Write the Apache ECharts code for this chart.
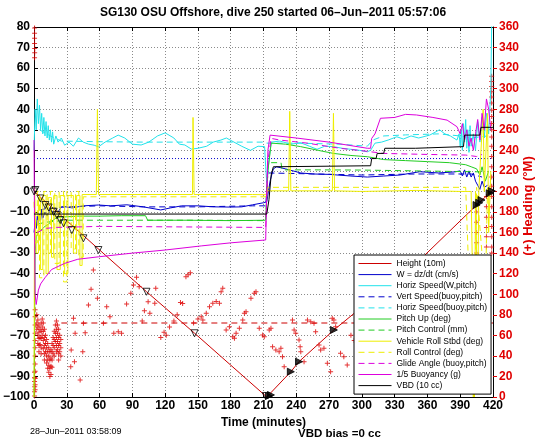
<!DOCTYPE html>
<html><head><meta charset="utf-8">
<script src="https://cdn.jsdelivr.net/npm/echarts@6/dist/echarts.min.js"></script>
<style>html,body{margin:0;padding:0;background:#fff}#c{width:546px;height:442px}</style>
</head><body><div id="c"></div>
<script>
// ---------- DATA (time in minutes, values on left axis unless noted) ----------
const titleText = 'SG130 OSU Offshore, dive 250 started 06\u2013Jun\u20132011 05:57:06';
const legendNames = ['Height (10m)','W = dz/dt (cm/s)','Horiz Speed(W,pitch)','Vert Speed(buoy,pitch)',
  'Horiz Speed(buoy,pitch)','Pitch Up (deg)','Pitch Control (mm)','Vehicle Roll Stbd (deg)',
  'Roll Control (deg)','Glide Angle (buoy,pitch)','1/5 Buoyancy (g)','VBD (10 cc)'];

const height = [[0,0],[60,-28.5],[103,-48.8],[147,-69],[213,-100],[235,-87.7],[242.5,-82.8],[274.4,-67.4],[356,-31.8],[405,-6.6],[420,0.7]];
const heightMarksDown = [[0,0],[1.2,0.7],[5.8,-3.4],[10.3,-6.6],[13.4,-7.8],[17.9,-9.9],[20.9,-11.5],[24,-13.9],[27,-15.5],[34.6,-18.8],[45.2,-22.8],[58.9,-28.5],[102.9,-48.8],[146.9,-69],[212,-99.5]];
const heightMarksUp = [[215,-99.5],[216.8,-99],[235,-87.7],[242.5,-82.8],[274.4,-67.4],[405,-6.6],[407.4,-5.5],[409.5,-4.2],[417,-0.9],[419,0.2]];

const wSpeed = [[0,-20],[1,-15],[2,-18],[3,-12],[4,-16],[5,-11],[6,-14],[7,-9],[8,-13],[10,-10],[12,-12],[14,-9],[16,-11],[19,-8],[22,-10],[25,-7.5],[28,-7.4],[35,-8],[45,-7],[59,-6.6],[70,-7],[85,-6.5],[100,-7.5],[116,-9],[125,-8],[135,-7],[150,-7],[165,-7.5],[180,-7.6],[190,-7.5],[200,-6.5],[210,-5.5],[213,-5],[216,5],[219,11],[222,12],[230,11],[244,9],[255,8.5],[270,8.3],[290,7.5],[305,7],[320,7.5],[335,8],[353,9.6],[370,9],[385,9.5],[390,10],[392,7.5],[394,10.5],[396,7],[398,10],[400,7],[402,9],[404,5],[406,3],[408,1],[410,5],[412,2],[415,3]];
const vertSpeedBuoy = [[5,-9],[15,-8],[30,-7.5],[60,-7],[100,-7.5],[150,-7.5],[200,-7],[212,-7],[214,9],[300,8],[350,8.5],[400,8.5],[410,7]];
const horizSpeedW = [[0,20],[1,40],[2,30],[3,45],[4,33],[5,42],[6,30],[7,38],[8,28],[9,36],[10,27],[11,34],[12,26],[13,32],[14,25],[15,30],[16,24],[17,29],[18,23],[20,27],[22,24],[25,26],[28,22.5],[32,24],[36,22],[40.7,26],[45,24],[50,23],[55,22.5],[59,21.7],[65,24],[72,26],[77,27.4],[83,26],[90,23],[98,22.6],[105,24],[113,27],[120,28.5],[128,26],[133,23],[138,22.6],[144,20.6],[150,21],[158,22],[164,24],[171,25],[176,26],[183,24],[190,22],[198,20],[205,22],[211,21.8],[212,12],[213,4],[215,15],[217,24],[225,24.5],[235,23],[244,23.7],[252,22],[259,20.5],[266,22],[274,21.8],[282,21],[290,20.5],[298,20],[305,19.3],[308,20],[312,23.5],[318,24],[324,25],[332,26.6],[338,25.5],[345,27],[352,26],[362,27.4],[366,28.5],[371,30],[376,28],[381,27],[387,25],[389,28],[390,22],[391,30],[392,20],[393,33],[394,24],[395,35],[396,21],[397,30],[398,19],[399,32],[400,22],[402,28],[404,20],[406,34],[408,24],[410,36],[412,26],[414,38],[416,28],[418,50],[419,90]];
const horizSpeedBuoy = [[5,30],[15,27],[25,24.5],[60,24.2],[100,24],[150,24],[210,24],[213,23.5],[240,23.5],[280,23],[305,22],[310,25],[320,27],[340,27.5],[370,28],[390,27],[400,26],[415,27]];
const pitchUp = [[0,-100],[0.5,-65],[1,-30],[2,-22],[4,-20],[6,-19],[8,-18],[10,-17],[13,-16],[16,-14.5],[20,-13],[25,-12.5],[40,-12],[60,-12],[80,-11.8],[102,-11.8],[104,-14],[140,-14],[180,-14.2],[212,-14],[214,10],[217,23.5],[230,23],[244,21.8],[260,20],[274,18.5],[290,17.5],[305,16.9],[320,15.5],[340,15],[360,14.5],[380,14],[395,13],[400,12],[405,11],[408,8],[410,12],[413,5],[416,10]];
const pitchControl = [[3,-16],[10,-15],[30,-14],[60,-14],[100,-14],[150,-14],[212,-14.2],[214,14],[226,14],[227,10.5],[260,10.5],[300,10.4],[350,10],[400,9.6],[410,9.5]];
const rollStbd = [[0,-100],[0.5,2],[2,2],[2,-30],[4,-30],[4,-3],[6,-3],[6,-38],[8,-38],[8,-2],[11,-2],[11,-40],[13,-40],[13,-3],[16,-3],[16,-32],[18,-32],[18,-2],[21,-2],[21,-38],[24,-38],[24,-2],[28,-2],[28,-40],[31,-40],[31,-2],[36,-2],[36,-30],[39,-30],[39,-2],[42,-2],[42,-36],[44,-36],[44,-1.5],[57,-1.5],[58,40],[59,-1.5],[100,-1.5],[145,-1.5],[145.5,36],[146.5,-1.5],[200,-1.5],[212,-1.6],[213,-1],[214,0.3],[233,0.3],[234,39],[235,0.3],[273,0.3],[274,38],[275,0.3],[300,0],[350,0.5],[390,0],[400,0],[403,-100],[404,0],[406,-60],[407,0],[411,40],[412,0],[415,38],[416,-20],[418,10]];
const rollControl = [[0,-5],[1,-5],[1,-25],[3,-25],[3,0],[5,0],[5,-42],[9,-42],[9,0],[12,0],[12,-30],[15,-30],[15,0],[19,0],[19,-35],[23,-35],[23,0],[27,0],[27,-44],[30,-44],[30,0],[34,0],[34,-28],[38,-28],[38,0],[41,0],[41,-32],[45,-32],[45,-2.6],[100,-2.6],[150,-2.6],[212,-2.6],[214,2],[300,2],[395,2],[402,-100],[405,2],[413,-50],[415,2]];
const glideAngle = [[3,-20],[10,-18],[20,-17.5],[60,-17],[150,-17.3],[212,-17.5],[214,15],[217,25.8],[225,25],[250,23.5],[280,21],[305,19.5],[320,18.5],[360,18],[395,17.7],[405,17],[410,18]];
const buoyancy = [[0,25],[0.5,-20],[1,-50],[2,-55],[4,-48],[6,-45],[10,-42],[16,-38],[22,-36.5],[28,-35],[40,-33],[59,-31.8],[90,-30],[120,-28.5],[153,-26.5],[180,-25],[212,-23.6],[213,0],[214,20],[216,27.4],[240,26],[270,24],[305,21],[308,21],[309,25.8],[312,28],[317,35.6],[330,36],[340,37.5],[350,37.2],[365,36],[378,34.7],[387,31.5],[390,28],[392,33],[394,25],[396,30],[398,22],[400,26],[402,20],[404,28],[406,35],[408,25],[410,38],[412,30],[414,45],[416,40],[418,30]];
const vbd = [[0,-11],[213,-11],[215,-4],[217,8],[219,12],[308,12.5],[309,16],[313,16],[314,18.5],[320,18.5],[321,21],[349,21],[350,21.8],[393,21.8],[394,27.4],[408,27.4],[409,31.2],[420,31.2]];
const blueRef = [[0,16],[420,16]];

// heading (right axis, degrees M)
const headingRef = [[25,72],[420,72]];
const headingStart = [[0.5,359],[0.5,354],[0.5,349],[0.5,344],[0.6,339],[0.6,335],[0.5,330],[0.5,24],[0.6,19],[0.5,15],[0.6,10],[0.5,5],[0.5,1]];
const headingCluster = [[1,85],[1,78],[1,70],[1,62],[1,55],[1,48],[1,40],[1,32],[1,25],[1,18],[1,12],[1,7],
[2.5,80],[2.5,72],[2.5,66],[3.5,75],[3.5,68],[3.5,60],[3.5,52],[4.5,70],[4.5,63],[4.5,57],[4.5,50],[4.5,44],
[5.5,66],[5.5,58],[5.5,51],[6.5,72],[6.5,64],[6.5,57],[6.5,48],[6.5,42],[7.5,76],[7.5,68],[7.5,60],
[8.5,72],[8.5,64],[8.5,55],[8.5,47],[9.5,66],[9.5,58],[9.5,50],[9.5,42],[9.5,36],[10.5,60],[10.5,52],[10.5,44],
[11.5,56],[11.5,48],[11.5,40],[11.5,33],[12.5,52],[12.5,44],[12.5,36],[12.5,28],[13.5,48],[13.5,40],[13.5,31],[13.5,24],
[14.5,44],[14.5,36],[14.5,28],[14.5,20],[15.5,46],[15.5,38],[15.5,30],[15.5,22],[16.5,52],[16.5,44],[16.5,36],[16.5,29],
[17.5,58],[17.5,50],[17.5,42],[18.5,64],[18.5,56],[18.5,48],[18.5,40],[19.5,70],[19.5,62],[19.5,54],
[20.5,74],[20.5,66],[20.5,58],[20.5,50],[20.5,44],[21.5,70],[21.5,62],[21.5,54],[21.5,46],
[22.5,66],[22.5,58],[22.5,50],[22.5,42],[22.5,36],[23.5,60],[23.5,52],[23.5,44],[24.5,56],[24.5,48],[24.5,40]];
const headingDescent = [[33.6,29.5],[34,45.7],[36.1,76.6],[37,34.4],[37.6,62],[42.2,16.5],[44.6,44],[45.2,71.7],[46.8,62.6],[49.8,89.5],[52.2,104.8],[54.3,123.6],[58,96],[63.5,71.7],[66.5,87.9],[69.5,78],[73,62],[77.1,63.5],[80.1,62],[84.7,90.5],[88.6,100.9],[91,109],[93.8,116.5],[96.2,107.3],[99,74],[101,84],[104.4,92.7],[106,81.4],[110.5,91.2],[111.4,105.8],[116,58],[119,63],[121,60],[124,68],[128,74],[131,80],[134,92],[136,91],[139,117],[141,119],[143,121],[146,72],[150,76],[153,78],
[154.5,74.9],[157.6,81.4],[160.6,87.9],[163.6,91.2],[166.7,92.8],[169.7,91.2],[171.2,102.5],[172.7,105.7],[175.8,65.2],[178.8,68.4],[181.9,58.7],[183.4,57.1],[184.9,62],[187.9,66.8],[191,74.9],[192.5,81.4],[194,83],[198.5,96],[201.6,100.9],[203.1,102.5],[206.1,66.8],[209.2,60.3],[210.7,58.7]];
const headingAscent = [[215.2,65.2],[216.8,66.8],[218.3,48.9],[221.3,45.7],[224.3,44],[225.9,47.4],[227.4,39.2],[228.9,29.5],[236.5,74.9],[238,65.2],[239.5,62],[242.5,55.5],[243.5,48.9],[244.1,44],[247.1,34.3],[250.2,74.9],[253.2,73.3],[256.2,71.7],[257.7,63.5],[260.8,50.6],[262.3,45.7],[265.3,47.4],[268.4,32.8],[271.4,24.6],[272.9,76.6],[274.4,74.9],[276,68.4],[280.5,42.5],[283.5,39.2],[286.6,31.1],
[290,60],[293,55],[297,82],[300,88],[305,70],[310,50],[316,45],[322,90],[330,95],[336,60],[344,52],[350,40],[360,80],[368,85],[375,65],[384,48],[392,60],[398,100]];
const headingEnd = [[405,180],[405,170],[405,160],[405,150],[405,140],[414,195],[414,185],[414,175],[414,165],[414,156],[414,146],
[418.8,312],[418.8,307],[418.8,302],[418.8,297],[418.8,292],[418.8,286],[418.8,279],[418.8,273],[418.8,266],[418.8,260],[418.8,253],[418.8,244],[418.8,234],[418.8,224],[418.8,214],[418.8,205],[418.8,195],[418.8,185],[418.8,175],[418.8,166],[418.8,156],[418.8,146],[418.8,140]];

// ---------- CHART ----------
const FONT = '"Liberation Sans", Arial, Helvetica, sans-serif';
const minus = v => String(v).replace('-', '\u2212');
const C = {red:'#cc0000', blue:'#0000cc', cyan:'#22e2ea', green:'#22cc22', yellow:'#eeee00', mag:'#dd00dd', black:'#000000'};

function ln(name, data, color, dashed, z, yi) {
  return {name, type:'line', data, xAxisIndex:0, yAxisIndex:yi||0, symbol:'circle', symbolSize:1, showSymbol:false, silent:true,
    clip:true, lineStyle:{color, width:1, type: dashed ? [6,4] : 'solid'}, itemStyle:{color}, z: z||2};
}
const crossPath = 'path://M-0.6,-3H0.6V3H-0.6Z M-3,-0.6H3V0.6H-3Z';
function hd(data){
  return {type:'scatter', data, xAxisIndex:0, yAxisIndex:1, symbol:crossPath, symbolSize:5, silent:true, clip:true,
    itemStyle:{color:'#dd0000'}, z:3};
}

const chart = echarts.init(document.getElementById('c'));
chart.setOption({
  animation:false,
  backgroundColor:'#fff',
  title:{text:titleText, left:'center', top:7, padding:0,
    textStyle:{fontFamily:FONT, fontSize:12, fontWeight:'bold', color:'#000'}},
  grid:{left:32, right:53, top:27, bottom:45},
  xAxis:[
    {type:'value', min:0, max:420, interval:30, position:'bottom',
     axisLine:{show:true, onZero:false, lineStyle:{color:'#000', width:1}},
     axisTick:{show:true, inside:true, length:4, lineStyle:{color:'#000'}},
     axisLabel:{fontFamily:FONT, fontSize:12, fontWeight:'bold', color:'#000', margin:3},
     splitLine:{show:true, lineStyle:{color:'#8a8a8a', type:[1,2], width:1}},
     name:'Time (minutes)', nameLocation:'middle', nameGap:17,
     nameTextStyle:{fontFamily:FONT, fontSize:12, fontWeight:'bold', color:'#000'}},
    {type:'value', min:0, max:420, interval:30, position:'top',
     axisLine:{show:true, onZero:false, lineStyle:{color:'#000', width:1}},
     axisTick:{show:true, inside:true, length:4, lineStyle:{color:'#000'}},
     axisLabel:{show:false}, splitLine:{show:false}}
  ],
  yAxis:[
    {type:'value', min:-100, max:80, interval:10, position:'left',
     axisLine:{show:true, onZero:false, lineStyle:{color:'#000', width:1}},
     axisTick:{show:true, inside:true, length:4, lineStyle:{color:'#000'}},
     axisLabel:{fontFamily:FONT, fontSize:12, fontWeight:'bold', color:'#000', margin:4, formatter:minus},
     splitLine:{show:true, lineStyle:{color:'#8a8a8a', type:[1,2], width:1}}},
    {type:'value', min:0, max:360, interval:20, position:'right',
     axisLine:{show:true, onZero:false, lineStyle:{color:'#000', width:1}},
     axisTick:{show:true, inside:false, length:4, lineStyle:{color:'#dd0000'}},
     axisLabel:{fontFamily:FONT, fontSize:12, fontWeight:'bold', color:'#e00000', margin:6},
     splitLine:{show:false}}
  ],
  legend:{data:legendNames, orient:'vertical', left:354, top:255, itemWidth:33, itemHeight:8, itemGap:2.1,
    padding:[4,4,4,4], backgroundColor:'#fff', borderColor:'#000', borderWidth:1, selectedMode:false,
    itemStyle:{opacity:0}, lineStyle:{width:1},
    textStyle:{fontFamily:FONT, fontSize:8.5, color:'#000'}, z:10},
  graphic:[
    {type:'text', x:528, y:206, rotation:Math.PI/2, z:10,
     style:{text:'(+) Heading (\u00b0M)', fontFamily:FONT, fontSize:13, fontWeight:'bold', fill:'#e00000', textAlign:'center', textVerticalAlign:'middle'}},
    {type:'text', x:30, y:432, z:10,
     style:{text:'28\u2013Jun\u20132011 03:58:09', fontFamily:FONT, fontSize:9, fill:'#000', textAlign:'left', textVerticalAlign:'middle'}},
    {type:'text', x:298, y:434, z:10,
     style:{text:'VBD bias =0 cc', fontFamily:FONT, fontSize:11.5, fontWeight:'bold', fill:'#000', textAlign:'left', textVerticalAlign:'middle'}}
  ],
  series:[
    {name:'blueRefDots', type:'line', data:blueRef, symbol:'circle', showSymbol:false, silent:true, lineStyle:{color:C.blue, width:1, type:[1,2]}, z:1},
    ln('headingRef', headingRef, C.red, true, 2, 1),
    hd(headingStart), hd(headingCluster), hd(headingDescent), hd(headingAscent), hd(headingEnd),
    ln(legendNames[0], height, C.red, false, 4),
    ln(legendNames[1], wSpeed, C.blue, false, 4),
    ln(legendNames[2], horizSpeedW, C.cyan, false, 4),
    ln(legendNames[3], vertSpeedBuoy, C.blue, true, 4),
    ln(legendNames[4], horizSpeedBuoy, C.cyan, true, 4),
    ln(legendNames[5], pitchUp, C.green, false, 4),
    ln(legendNames[6], pitchControl, C.green, true, 4),
    ln(legendNames[7], rollStbd, C.yellow, false, 4),
    ln(legendNames[8], rollControl, C.yellow, true, 4),
    ln(legendNames[9], glideAngle, C.mag, true, 4),
    ln(legendNames[10], buoyancy, C.mag, false, 4),
    ln(legendNames[11], vbd, C.black, false, 4),
    {type:'scatter', data:heightMarksDown, symbol:'triangle', symbolRotate:180, symbolSize:7, silent:true,
     itemStyle:{color:'rgba(0,0,0,0)', borderColor:'#000', borderWidth:1}, z:5},
    {type:'scatter', data:heightMarksUp, symbol:'triangle', symbolRotate:-90, symbolSize:7, silent:true,
     itemStyle:{color:'#000', borderColor:'#000', borderWidth:1}, z:5}
  ]
});
</script></body></html>
